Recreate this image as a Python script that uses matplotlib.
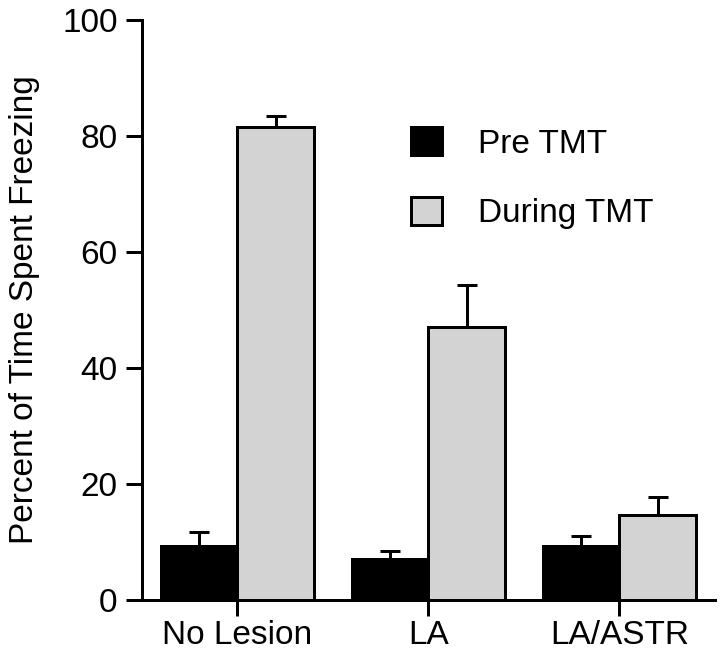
import numpy as np
import matplotlib.pyplot as plt
from matplotlib.patches import Patch

plt.rcParams['font.family'] = ['Liberation Sans', 'DejaVu Sans']

groups = ["No Lesion", "LA", "LA/ASTR"]
pre_tmt = [9.3, 7.0, 9.3]
pre_err = [2.4, 1.5, 1.7]
during_tmt = [81.6, 47.0, 14.7]
during_err = [1.9, 7.3, 3.0]

lw = 2.16
gray = "#d3d3d3"

fig = plt.figure(figsize=(7.2, 6.5), dpi=100)
ax = fig.add_axes([142 / 720, 50 / 650, (715 - 142) / 720, 580 / 650])

x = np.arange(len(groups))
w = 0.4
err_kw = dict(elinewidth=lw, capthick=lw, capsize=7.2, ecolor="black")

ax.bar(x - w / 2, pre_tmt, w, color="black", edgecolor="black", linewidth=lw,
       yerr=[np.zeros(3), pre_err], error_kw=err_kw, label="Pre TMT")
ax.bar(x + w / 2, during_tmt, w, color=gray, edgecolor="black", linewidth=lw,
       yerr=[np.zeros(3), during_err], error_kw=err_kw, label="During TMT")

ax.set_xlim(-0.5, 2.5)
ax.set_ylim(0, 100)
ax.set_yticks([0, 20, 40, 60, 80, 100])
ax.set_xticks(x)
ax.set_xticklabels(groups)
ax.tick_params(axis="both", direction="out", length=11.5, width=lw, labelsize=24)
ax.tick_params(axis="y", pad=6)
ax.tick_params(axis="x", pad=3)
ax.spines["top"].set_visible(False)
ax.spines["right"].set_visible(False)
ax.spines["left"].set_linewidth(lw)
ax.spines["bottom"].set_linewidth(lw)
ax.set_ylabel("Percent of Time Spent Freezing", fontsize=24, labelpad=16)

handles = [Patch(facecolor="black", edgecolor="black", linewidth=lw),
           Patch(facecolor=gray, edgecolor="black", linewidth=lw)]
fig.legend(handles, ["Pre TMT", "During TMT"], loc="upper left",
           bbox_to_anchor=(411 / 720, 523 / 650), frameon=False, fontsize=24,
           borderpad=0, borderaxespad=0, handlelength=0.93, handleheight=0.93,
           handletextpad=1.08, labelspacing=1.11)

fig.savefig("out.png", dpi=100)
